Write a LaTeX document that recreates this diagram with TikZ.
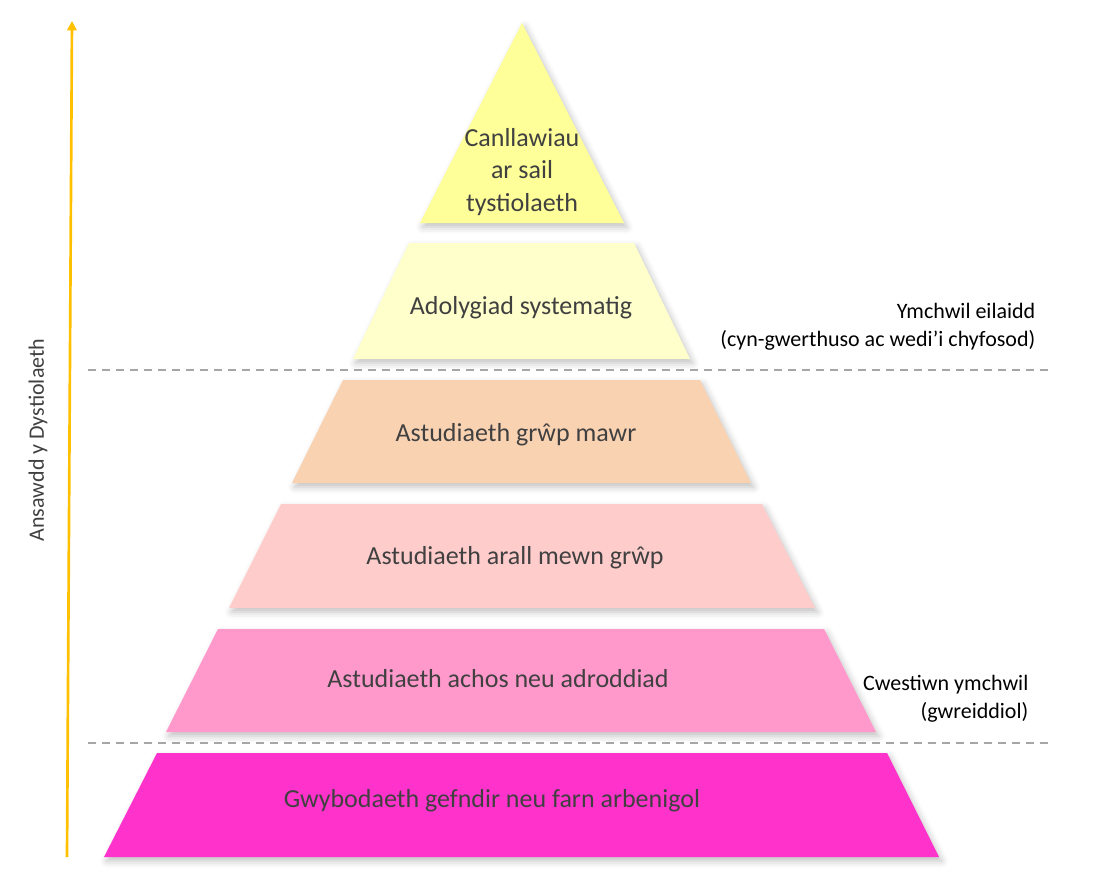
\documentclass[tikz,border=0pt]{standalone}
\usepackage{fontspec}
\setmainfont{Carlito}
\usetikzlibrary{arrows.meta,shadows.blur}

\definecolor{tierA}{HTML}{FFFF99}
\definecolor{tierB}{HTML}{FFFFCC}
\definecolor{tierC}{HTML}{F9D2B2}
\definecolor{tierD}{HTML}{FFCCCC}
\definecolor{tierE}{HTML}{FF99CC}
\definecolor{tierF}{HTML}{FF33CC}
\definecolor{inkgray}{HTML}{404040}
\definecolor{dashgray}{HTML}{A6A6A6}
\definecolor{arrowgold}{HTML}{FFC000}

\begin{document}
\begin{tikzpicture}[x=0.75pt, y=-0.75pt,
	tier/.style = {blur shadow={shadow xshift=2pt, shadow yshift=-3pt, shadow blur radius=5pt, shadow opacity=25}},
	main/.style = {font=\fontsize{19.5}{24.5}\selectfont, text=inkgray, align=center},
	side/.style = {font=\fontsize{16.5}{21}\selectfont, align=right},
	sep/.style = {draw=dashgray, line width=1.1pt, dash pattern=on 6pt off 4.5pt}]
	\useasboundingbox (0,0) rectangle (1112,879);
	% pyramid tiers
	\fill[tierA, tier] (522,23) -- (624,223) -- (420,223) -- cycle;
	\fill[tierB, tier] (409,243) -- (634,243) -- (690,359) -- (353,359) -- cycle;
	\fill[tierC, tier] (343,380) -- (700,380) -- (751,483) -- (292,483) -- cycle;
	\fill[tierD, tier] (281,504) -- (762,504) -- (815,608) -- (229,608) -- cycle;
	\fill[tierE, tier] (218,629) -- (824,629) -- (876,732) -- (166,732) -- cycle;
	\fill[tierF, tier] (157,753) -- (887,753) -- (939,857) -- (104,857) -- cycle;
	% labels
	\node[main] (1) at (522,172) {Canllawiau\\ar sail\\tystiolaeth};
	\node[main, anchor=base] (2) at (521,314) {Adolygiad systematig};
	\node[main, anchor=base] (3) at (516,441) {Astudiaeth grŵp mawr};
	\node[main, anchor=base] (4) at (515,564) {Astudiaeth arall mewn grŵp};
	\node[main, anchor=base] (5) at (498,687) {Astudiaeth achos neu adroddiad};
	\node[main, anchor=base] (6) at (492,807) {Gwybodaeth gefndir neu farn arbenigol};
	% separators
	\coordinate (s1) at (88,370);
	\coordinate (e1) at (1048,370);
	\coordinate (s2) at (88,743);
	\coordinate (e2) at (1048,743);
	\draw[sep] (s1) -- (e1);
	\draw[sep] (s2) -- (e2);
	\node[side, anchor=south east] (r1) at (1040,355) {Ymchwil eilaidd\\(cyn-gwerthuso ac wedi’i chyfosod)};
	\node[side, anchor=south east] (r2) at (1033,727) {Cwestiwn ymchwil\\(gwreiddiol)};
	% quality axis
	\coordinate (lo) at (67,857);
	\coordinate (hi) at (72,21);
	\draw[arrowgold, line width=2pt, -{Triangle[length=7pt, width=7pt]}] (lo) -- (hi);
	\node[side, text=inkgray, rotate=90] (q) at (38,440) {Ansawdd y Dystiolaeth};
\end{tikzpicture}
\end{document}
